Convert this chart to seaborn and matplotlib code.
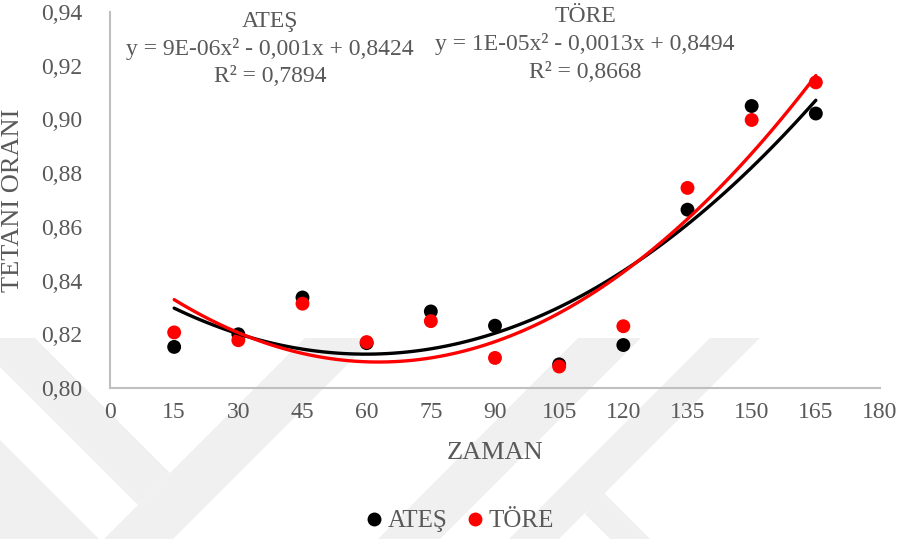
import numpy as np
import pandas as pd
import matplotlib
matplotlib.use("Agg")
import matplotlib.pyplot as plt
from matplotlib.patches import Polygon
from matplotlib.lines import Line2D
import seaborn as sns

# --- data -------------------------------------------------------------
zaman = [15, 30, 45, 60, 75, 90, 105, 120, 135, 150, 165]
ates = [0.8153, 0.8200, 0.8337, 0.8167, 0.8285, 0.8232, 0.8088, 0.8160, 0.8664, 0.9050, 0.9022]
tore = [0.8207, 0.8178, 0.8314, 0.8171, 0.8249, 0.8112, 0.8080, 0.8230, 0.8745, 0.8998, 0.9138]
series_names = ["ATEŞ", "TÖRE"]
series_colors = {"ATEŞ": "#000000", "TÖRE": "#FF0000"}
equations = {
    "ATEŞ": ("ATEŞ", "y = 9E-06x² - 0,001x + 0,8424", "R² = 0,7894"),
    "TÖRE": ("TÖRE", "y = 1E-05x² - 0,0013x + 0,8494", "R² = 0,8668"),
}
x_ticks = list(range(0, 181, 15))
y_ticks = [0.80, 0.82, 0.84, 0.86, 0.88, 0.90, 0.92, 0.94]

df = pd.DataFrame({
    "ZAMAN": zaman * 2,
    "ORAN": ates + tore,
    "SERI": ["ATEŞ"] * len(zaman) + ["TÖRE"] * len(zaman),
})

sns.set_theme(style="white")
plt.rcParams["font.family"] = ["Liberation Serif", "DejaVu Serif"]
TXT = "#595959"

W, H = 910, 539
fig = plt.figure(figsize=(W / 100, H / 100), dpi=100)
fig.patch.set_facecolor("white")


def px(x, y):
    return (x / W, 1 - y / H)


# faint background chevrons
wm_color = "#f0f0f0"
shapes = [
    [(0, 338), (35, 338), (170, 473), (138, 505), (0, 367)],
    [(104, 539), (305, 338), (374, 338), (173, 539)],
    [(0, 440), (99, 539), (0, 539)],
    [(440, 539), (640, 339), (640, 338), (578, 338), (378, 539)],
    [(509, 539), (710, 338), (760, 338), (559, 539)],
    [(603, 492), (650, 539), (610, 539), (585, 514)],
]
for s in shapes:
    fig.patches.append(Polygon([px(*p) for p in s], closed=True,
                               transform=fig.transFigure, facecolor=wm_color,
                               edgecolor="none", zorder=-5))

ax = fig.add_axes([110 / W, 1 - 388 / H, (880 - 110) / W, (388 - 12) / H])
ax.set_facecolor("none")
ax.set_zorder(2)

# scatter points
sns.scatterplot(data=df, x="ZAMAN", y="ORAN", hue="SERI", palette=series_colors,
                s=100, linewidth=0, legend=False, ax=ax, zorder=3)

# second-order polynomial trend lines
for name in series_names:
    sub = df[df["SERI"] == name]
    sns.regplot(data=sub, x="ZAMAN", y="ORAN", order=2, ci=None, scatter=False,
                color=series_colors[name], line_kws={"linewidth": 2.4, "zorder": 4},
                ax=ax, truncate=True)

ax.set_xlim(0, 180)
ax.set_ylim(0.80, 0.94)
ax.set_xticks(x_ticks)
ax.set_yticks(y_ticks)
ax.set_xticklabels([str(t) for t in x_ticks])
ax.set_yticklabels([f"{t:.2f}".replace(".", ",") for t in y_ticks])
ax.tick_params(axis="both", length=0, labelsize=17, labelcolor=TXT)
ax.tick_params(axis="y", pad=20)
ax.tick_params(axis="x", pad=10)
ax.grid(False)

for side in ["top", "right"]:
    ax.spines[side].set_visible(False)
for side in ["left", "bottom"]:
    ax.spines[side].set_color("#bfbfbf")
    ax.spines[side].set_linewidth(1.5)

ax.set_xlabel("ZAMAN", fontsize=19, color=TXT, labelpad=14)
ax.set_ylabel("TETANİ ORANI", fontsize=19, color=TXT, labelpad=12)

# trend line equations, one line each for name, formula and R²
eq_pos = {"ATEŞ": (270, 22), "TÖRE": (585, 17)}
line_step = 27.5
for name in series_names:
    cx, cy = eq_pos[name]
    for i, line in enumerate(equations[name]):
        fig.text(*px(cx, cy + i * line_step), line, ha="center", va="center",
                 fontsize=17, color=TXT, zorder=5)

# legend
handles = [Line2D([], [], linestyle="none", marker="o", markersize=10,
                  markerfacecolor=series_colors[n], markeredgecolor="none", label=n)
           for n in series_names]
leg = fig.legend(handles=handles, loc="center", bbox_to_anchor=px(458, 521), ncol=2,
                 frameon=False, fontsize=18, labelcolor=TXT, handletextpad=0.05,
                 columnspacing=0.6, handlelength=1.0)
leg.set_zorder(5)

fig.savefig("out.png", dpi=100, facecolor="white")
